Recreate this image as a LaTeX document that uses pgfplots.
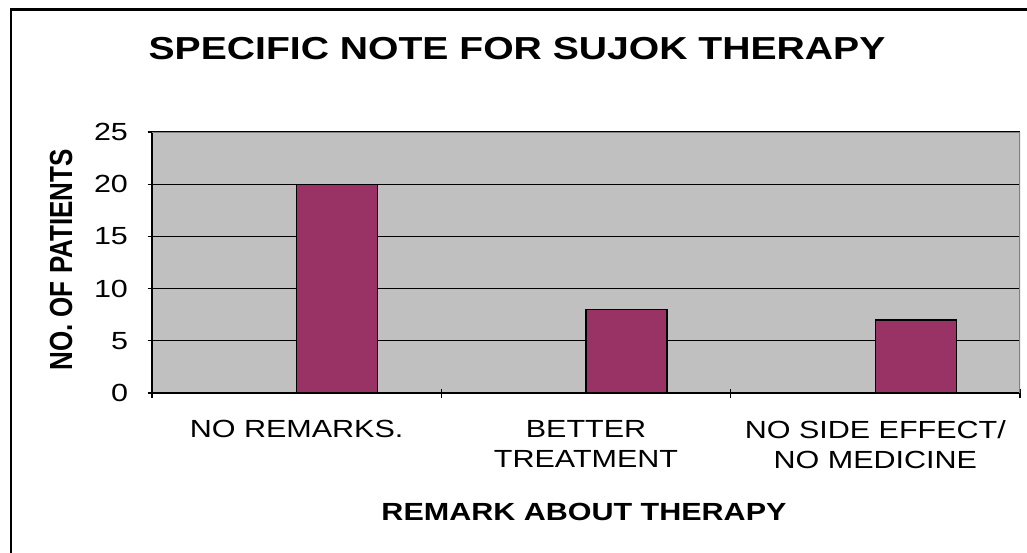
\documentclass[border=0pt]{standalone}
\usepackage{fontspec}
\setmainfont{Liberation Sans}[FakeStretch=1.23]
\newfontfamily\plainfont{Liberation Sans}
\usepackage{pgfplots}
\pgfplotsset{compat=1.18}
\definecolor{plotgray}{HTML}{C0C0C0}
\definecolor{barred}{HTML}{993366}
\definecolor{bordergray}{HTML}{808080}
\newcommand{\lbl}{\fontsize{24.8}{30}\selectfont}
\begin{document}
\begin{tikzpicture}
\path[use as bounding box] (0,0) rectangle (1027pt,552pt);
\begin{scope}
\clip (0,0) rectangle (1027pt,552pt);
\draw[line width=2.5pt] (11pt,-20pt) rectangle (1060pt,542.5pt);
\end{scope}
\begin{axis}[
  at={(152pt,159pt)}, anchor=south west,
  scale only axis, width=868pt, height=261pt,
  xmin=-0.5, xmax=2.5, ymin=0, ymax=25,
  ytick={0,5,...,25},
  xtick={0,1,2},
  xticklabels={NO REMARKS., BETTER\\TREATMENT, NO SIDE EFFECT/\\NO MEDICINE},
  xticklabel style={align=center, font=\lbl, yshift=-19pt},
  yticklabel style={font=\lbl, xshift=-16pt},
  /pgf/number format/assume math mode=true,
  major x tick style={draw=none},
  minor xtick={-0.5,0.5,1.5,2.5},
  tick align=outside,
  tick style={black, line width=1.3pt},
  major tick length=9pt, minor tick length=9pt,
  ymajorgrids, grid style={black, line width=1.2pt},
  axis background/.style={fill=plotgray},
  axis lines=left,
  axis line style={-, black, line width=1.5pt},
]
\addplot[ybar, bar width=0.28, bar shift=0.14, fill=barred, draw=black, line width=1.3pt]
  coordinates {(0,20) (1,8) (2,7)};
\draw[bordergray, line width=1.5pt] (rel axis cs:0,1) -- (rel axis cs:1,1) -- (rel axis cs:1,0);
\end{axis}
\node[font=\bfseries\fontsize{31.8}{36}\selectfont, anchor=base] at (517pt,492.7pt) {SPECIFIC NOTE FOR SUJOK THERAPY};
\node[font=\bfseries\lbl, anchor=base] at (584pt,32pt) {REMARK ABOUT THERAPY};
\node[anchor=base, rotate=90, inner sep=0pt] at (72pt,292pt)
  {\scalebox{1}[1.23]{\plainfont\bfseries\fontsize{26}{30}\selectfont NO. OF PATIENTS}};
\end{tikzpicture}
\end{document}
